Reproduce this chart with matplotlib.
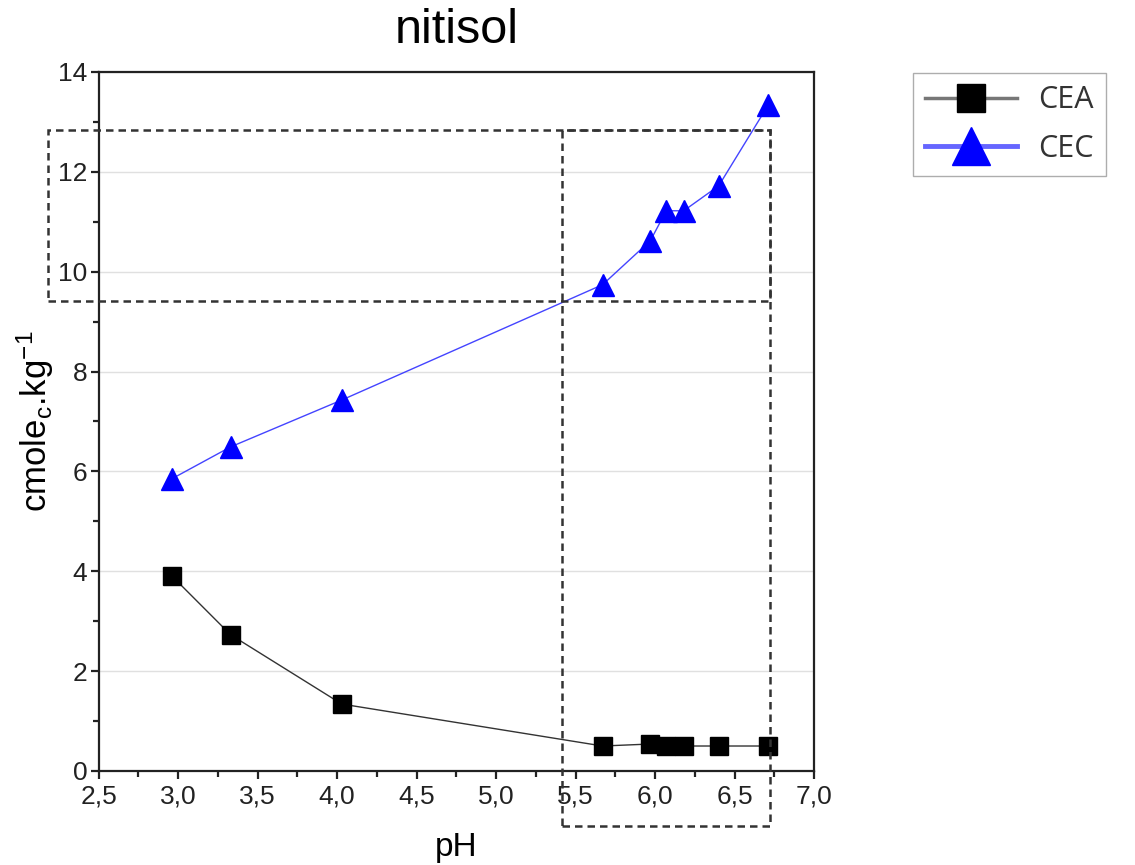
import matplotlib
matplotlib.use("Agg")
import matplotlib.pyplot as plt
from matplotlib.patches import Rectangle
from matplotlib.lines import Line2D
from matplotlib.ticker import MultipleLocator, FuncFormatter

plt.rcParams['font.family'] = ['Liberation Sans', 'DejaVu Sans']
plt.rcParams['mathtext.fontset'] = 'custom'
plt.rcParams['mathtext.rm'] = 'Liberation Sans'
plt.rcParams['mathtext.it'] = 'Liberation Sans'

ph = [2.96, 3.33, 4.03, 5.67, 5.97, 6.07, 6.18, 6.40, 6.71]
cea = [3.91, 2.73, 1.34, 0.50, 0.54, 0.50, 0.50, 0.50, 0.50]
cec = [5.85, 6.49, 7.43, 9.74, 10.62, 11.22, 11.22, 11.72, 13.33]

# dashed highlight boxes (data coords)
box_h = (2.18, 9.42, 6.72, 12.83)   # x0, y0, x1, y1
box_v = (5.415, -1.10, 6.72, 12.83)

fig = plt.figure(figsize=(11.35, 8.65), dpi=100)
ax = fig.add_axes([0.0868, 0.1087, 0.6305, 0.8081])

ax.set_xlim(2.5, 7.0)
ax.set_ylim(0, 14)
ax.xaxis.set_major_locator(MultipleLocator(0.5))
ax.xaxis.set_minor_locator(MultipleLocator(0.25))
ax.yaxis.set_major_locator(MultipleLocator(2))
ax.yaxis.set_minor_locator(MultipleLocator(1))
ax.xaxis.set_major_formatter(FuncFormatter(lambda v, p: f"{v:.1f}".replace('.', ',')))
ax.yaxis.set_major_formatter(FuncFormatter(lambda v, p: f"{int(v)}"))
ax.tick_params(which='both', direction='out', top=False, right=False, width=1.6, colors='#222222')
ax.tick_params(which='major', length=6, labelsize=19, pad=2)
ax.tick_params(axis='x', which='major', pad=4)
ax.tick_params(which='minor', length=4)
for s in ax.spines.values():
    s.set_linewidth(1.6)
    s.set_color('#222222')
ax.grid(axis='y', which='major', color='#e0e0e0', linewidth=1.0)
ax.set_axisbelow(True)

l1, = ax.plot(ph, cea, color='#333333', linewidth=1.0, marker='s', markersize=13,
              markerfacecolor='black', markeredgecolor='black', label='CEA', clip_on=False, zorder=5)
l2, = ax.plot(ph, cec, color='#4444ff', linewidth=1.0, marker='^', markersize=16,
              markerfacecolor='#0000ff', markeredgecolor='#0000ff', label='CEC', clip_on=False, zorder=5)

for (x0, y0, x1, y1) in (box_h, box_v):
    r = Rectangle((x0, y0), x1 - x0, y1 - y0, fill=False, linestyle=(0, (3, 2)),
                  linewidth=1.8, edgecolor='#333333', clip_on=False, zorder=6)
    ax.add_patch(r)

ax.set_title('nitisol', fontsize=35, pad=21)
ax.set_xlabel('pH', fontsize=24, labelpad=17)
ax.set_ylabel('cmole$_\\mathregular{c}$.kg$^\\mathregular{-1}$', fontsize=25)
ax.yaxis.set_label_coords(-0.059, 0.5)

h1 = Line2D([], [], color='#777777', linewidth=2.5, marker='s', markersize=20,
            markerfacecolor='black', markeredgecolor='black')
h2 = Line2D([], [], color='#6666ff', linewidth=3.5, marker='^', markersize=28,
            markerfacecolor='#0000ff', markeredgecolor='#0000ff')
leg = fig.legend(handles=[h1, h2], labels=['CEA', 'CEC'], loc='upper left',
                 bbox_to_anchor=(0.8044, 0.9156), frameon=True, fancybox=False,
                 edgecolor='#999999', handlelength=3.0, handletextpad=0.7,
                 borderpad=0.4, labelspacing=0.6, borderaxespad=0,
                 prop={'family': ['Open Sans', 'DejaVu Sans'], 'size': 22})
for t in leg.get_texts():
    t.set_color('#333333')

fig.savefig('out.png', dpi=100)
